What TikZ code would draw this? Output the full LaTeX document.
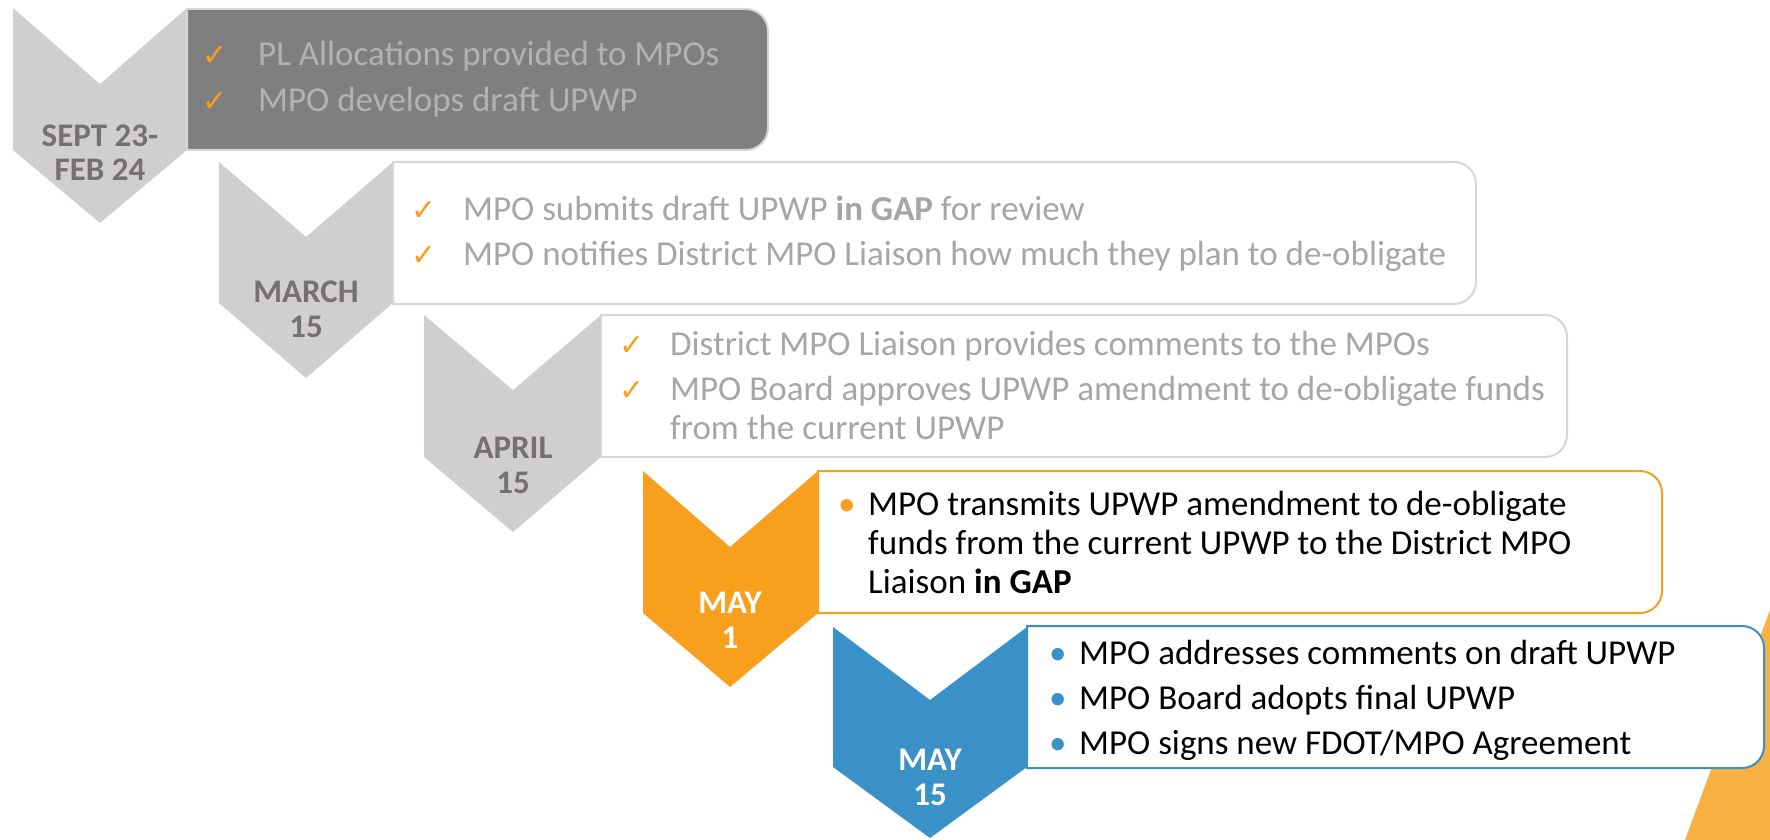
\documentclass[tikz,border=0pt]{standalone}
\usepackage{fontspec}
\setmainfont{Carlito}
\newfontfamily\tickfont{DejaVu Sans}
\definecolor{chevgrey}{RGB}{208,206,206}
\definecolor{labelgrey}{RGB}{118,113,113}
\definecolor{darkbox}{RGB}{127,127,127}
\definecolor{edgegrey}{RGB}{214,214,218}
\definecolor{softtext}{RGB}{166,166,166}
\definecolor{paletext}{RGB}{178,178,178}
\definecolor{mayorange}{RGB}{248,160,30}
\definecolor{mayblue}{RGB}{58,145,200}
\definecolor{cornerorange}{RGB}{247,177,67}

\begin{document}
\begin{tikzpicture}[x=1pt,y=-1pt,
  datelabel/.style={font=\fontsize{33}{35}\selectfont\bfseries, text=labelgrey, align=center, anchor=base, inner sep=0pt},
  itemtext/.style={font=\fontsize{35}{39}\selectfont, text=softtext, align=left, anchor=base west, inner sep=0pt},
  tickmark/.style={font=\tickfont\fontsize{30}{30}\selectfont, text=mayorange, anchor=base west, inner sep=0pt},
  bulletmark/.style={font=\fontsize{35}{39}\selectfont, anchor=base west, inner sep=0pt}]
\useasboundingbox (0,0) rectangle (1770,840);
%% corner of the slide behind the last box
\fill[cornerorange] (1685,840) -- (1770,610) -- (1770,840) -- cycle;
%% the five chevrons: top left, notch, top right, lower right, point, lower left
	\begin{scope}
    \fill[chevgrey] (13,8) -- (100,84) -- (187,8) -- (187,150) -- (100,223) -- (13,150) -- cycle;
    \fill[chevgrey] (219,162) -- (306,237) -- (393,162) -- (393,303) -- (306,378) -- (219,303) -- cycle;
    \fill[chevgrey] (424,315) -- (513,390) -- (601,315) -- (601,457) -- (513,532) -- (424,457) -- cycle;
    \fill[mayorange] (643,471) -- (730,547) -- (818,471) -- (818,613) -- (730,687) -- (643,613) -- cycle;
    \fill[mayblue] (833,627) -- (930,700) -- (1027,627) -- (1027,767) -- (930,838) -- (833,767) -- cycle;
%% the boxes, square on the chevron side and round on the other
    \draw[fill=darkbox, draw=edgegrey, line width=2pt] (187,9) -- (746,9) arc[start angle=-90, end angle=0, radius=22] -- (768,128) arc[start angle=0, end angle=90, radius=22] -- (187,150) -- cycle;
    \draw[fill=white, draw=edgegrey, line width=2pt] (393,162) -- (1454,162) arc[start angle=-90, end angle=0, radius=22] -- (1476,282) arc[start angle=0, end angle=90, radius=22] -- (393,304) -- cycle;
    \draw[fill=white, draw=edgegrey, line width=2pt] (601,315) -- (1545,315) arc[start angle=-90, end angle=0, radius=22] -- (1567,435) arc[start angle=0, end angle=90, radius=22] -- (601,457) -- cycle;
    \draw[fill=white, draw=mayorange, line width=2pt] (818,471) -- (1640,471) arc[start angle=-90, end angle=0, radius=22] -- (1662,591) arc[start angle=0, end angle=90, radius=22] -- (818,613) -- cycle;
    \draw[fill=white, draw=mayblue, line width=2pt] (1027,626) -- (1742,626) arc[start angle=-90, end angle=0, radius=22] -- (1764,746) arc[start angle=0, end angle=90, radius=22] -- (1027,768) -- cycle;
	\end{scope}
%% dates (a two line node sits on the baseline of its last line)
    \node (sept) [datelabel] at (100,181) {SEPT 23-\\FEB 24};
    \node (march) [datelabel] at (306,337) {MARCH\\15};
    \node (april) [datelabel] at (513,493) {APRIL\\15};
    \node (mayone) [datelabel, text=white] at (730,648) {MAY\\1};
    \node (mayfifteen) [datelabel, text=white] at (930,805) {MAY\\15};
%% box 1
    \node (tickA) [tickmark] at (202,66) {✓};
    \node (plalloc) [itemtext, text=paletext] at (258,66) {PL Allocations provided to MPOs};
    \node (tickB) [tickmark] at (202,112) {✓};
    \node (draft) [itemtext, text=paletext] at (258,112) {MPO develops draft UPWP};
%% box 2
    \node (tickC) [tickmark] at (411,220) {✓};
    \node (submit) [itemtext] at (463,220) {MPO submits draft UPWP \textbf{in GAP} for review};
    \node (tickD) [tickmark] at (411,265) {✓};
    \node (notify) [itemtext] at (463,265) {MPO notifies District MPO Liaison how much they plan to de-obligate};
%% box 3
    \node (tickE) [tickmark] at (619,355) {✓};
    \node (comments) [itemtext] at (670,355) {District MPO Liaison provides comments to the MPOs};
    \node (tickF) [tickmark] at (619,400) {✓};
    \node (approve) [itemtext] at (670,439) {MPO Board approves UPWP amendment to de-obligate funds\\from the current UPWP};
%% box 4
    \node (dotA) [bulletmark, text=mayorange] at (838,515) {•};
    \node (transmit) [itemtext, text=black] at (868,593) {MPO transmits UPWP amendment to de-obligate\\funds from the current UPWP to the District MPO\\Liaison \textbf{in GAP}};
%% box 5
    \node (dotB) [bulletmark, text=mayblue] at (1049,664) {•};
    \node (address) [itemtext, text=black] at (1079,664) {MPO addresses comments on draft UPWP};
    \node (dotC) [bulletmark, text=mayblue] at (1049,709) {•};
    \node (adopt) [itemtext, text=black] at (1079,709) {MPO Board adopts final UPWP};
    \node (dotD) [bulletmark, text=mayblue] at (1049,754) {•};
    \node (sign) [itemtext, text=black] at (1079,754) {MPO signs new FDOT/MPO Agreement};
\end{tikzpicture}
\end{document}
